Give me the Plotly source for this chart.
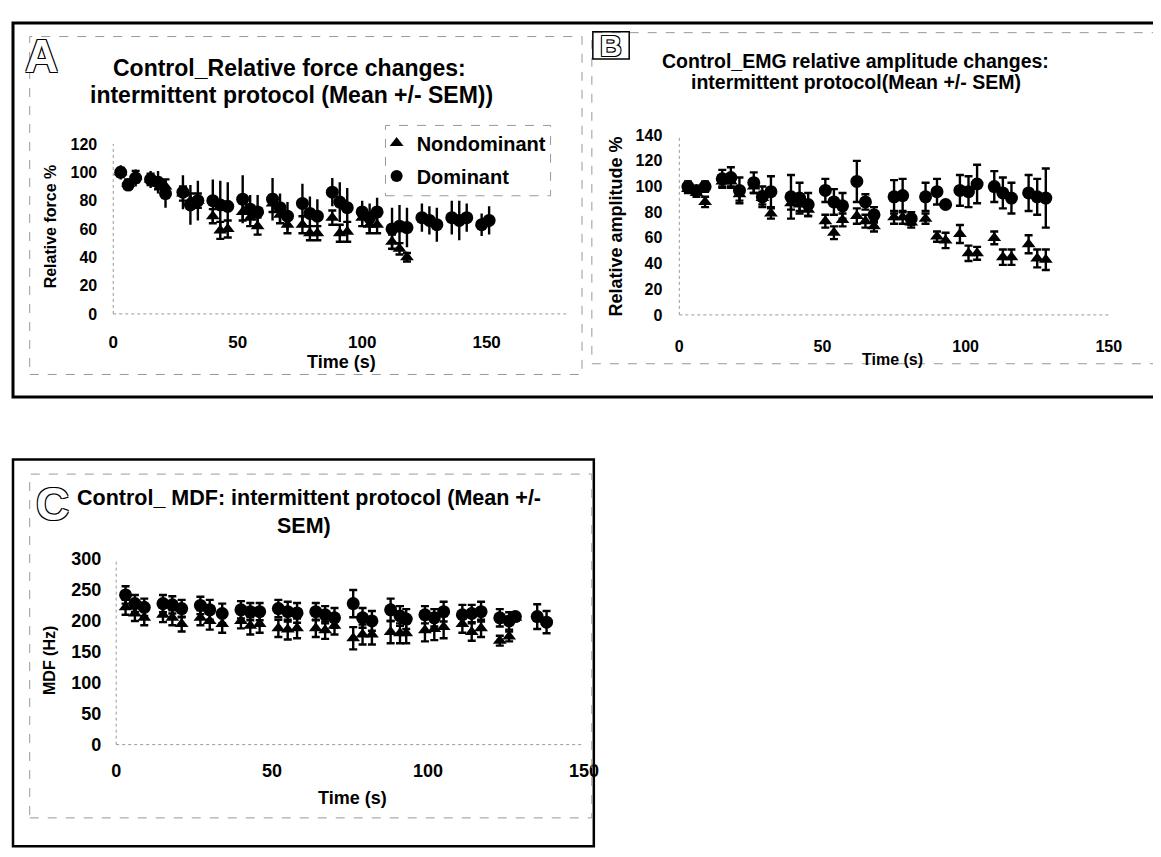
import plotly.graph_objects as go

# ---------------- data ----------------
# Panel A: relative force (%)
tA_dom = [3, 6, 9, 15, 18, 21, 28, 31, 34, 40, 43, 46, 52, 55, 58, 64, 67, 70,
          76, 79, 82, 88, 91, 94, 100, 103, 106, 112, 115, 118, 124, 127, 130,
          136, 139, 142, 148, 151]
dom_A = [100, 91, 96, 95, 93, 85, 86, 77, 80, 80, 77, 76, 81, 74, 72, 81, 75, 69,
         78, 71, 69, 86, 79, 75, 72, 68, 72, 60, 62, 61, 68, 66, 63,
         68, 66, 68, 63, 66]
dom_A_err = [5, 3, 6, 6, 8, 10, 12, 14, 14, 15, 17, 17, 17, 10, 12, 15, 10, 10,
             14, 12, 12, 10, 14, 14, 8, 10, 10, 15, 15, 14, 10, 10, 12,
             12, 14, 10, 8, 10]
tA_nd = tA_dom[:30]
nd_A = [100, 92, 97, 95, 92, 90, 85, 80, 80, 69, 59, 60, 72, 68, 62, 78, 70, 63,
        63, 57, 57, 68, 57, 58, 68, 63, 63, 51, 46, 40]
nd_A_err = [3, 3, 4, 4, 4, 5, 5, 5, 5, 5, 6, 6, 6, 6, 6, 6, 6, 6,
            6, 5, 5, 5, 6, 7, 6, 6, 6, 5, 4, 3]

# Panel B: EMG relative amplitude (%)
tB = [3, 6, 9, 15, 18, 21, 26, 29, 32, 39, 42, 45, 51, 54, 57, 62, 65, 68,
      75, 78, 81, 86, 90, 93, 98, 101, 104, 110, 113, 116, 122, 125, 128]
dom_B = [100, 97, 100, 106, 107, 97, 103, 92, 96, 92, 91, 86, 97, 88, 85, 104, 88, 78,
         92, 93, 75, 92, 96, 86, 97, 96, 102, 100, 95, 91, 95, 92, 91]
dom_B_err = [4, 3, 4, 7, 8, 10, 8, 8, 12, 17, 12, 9, 9, 10, 10, 16, 6, 6,
             13, 13, 5, 11, 10, 2, 12, 12, 15, 12, 12, 12, 14, 14, 23]
nd_B = [98, 95, 88, 104, 104, 94, 100, 91, 79, 87, 86, 82, 73, 64, 74, 77, 73, 69,
        76, 76, 72, 75, 61, 58, 63, 48, 48, 60, 45, 45, 55, 44, 43]
nd_B_err = [3, 3, 4, 4, 4, 5, 5, 5, 4, 5, 5, 5, 5, 5, 5, 6, 5, 4,
            5, 5, 4, 4, 4, 6, 7, 6, 5, 5, 6, 6, 7, 7, 8]

# Panel C: MDF (Hz)
tC = [3, 6, 9, 15, 18, 21, 27, 30, 34, 40, 43, 46, 52, 55, 58, 64, 67, 70,
      76, 79, 82, 88, 91, 93, 99, 102, 105, 111, 114, 117, 123, 126, 128, 135, 138]
dom_C = [242, 228, 222, 228, 226, 220, 225, 218, 212, 218, 215, 215, 220, 215, 213,
         215, 210, 205, 228, 205, 200, 218, 208, 203, 210, 205, 215, 210, 212, 215,
         205, 200, 207, 207, 198]
dom_C_err = [14, 14, 14, 14, 14, 14, 14, 16, 16, 14, 14, 14, 14, 16, 16, 14, 14, 16,
             22, 16, 16, 18, 16, 16, 14, 14, 16, 16, 14, 16, 14, 14, 4, 20, 18]
tC_nd = tC[:33]
nd_C = [222, 212, 205, 210, 205, 195, 205, 200, 195, 200, 192, 195, 188, 186, 188,
        188, 185, 192, 172, 178, 178, 182, 180, 180, 185, 187, 190, 195, 182, 188,
        168, 175, 205]
nd_C_err = [12, 12, 12, 12, 12, 12, 12, 14, 14, 12, 14, 14, 14, 16, 16, 14, 14, 14,
            18, 16, 16, 18, 16, 16, 18, 18, 18, 14, 14, 14, 8, 8, 4]

W, H = 1161, 857
OFF = 8  # page body margin
FONT = "Liberation Sans, Arial, sans-serif"


def X(px):
    return (px - OFF) / W


def Y(py):
    return 1 - (py - OFF) / H


fig = go.Figure()


def add_pair(t_nd, v_nd, e_nd, t_d, v_d, e_d, xa, ya, legend, dcap):
    fig.add_trace(go.Scatter(
        x=t_nd, y=v_nd, mode="markers", name="Nondominant",
        marker=dict(symbol="triangle-up", size=12, color="black"),
        error_y=dict(type="data", array=e_nd, color="black", thickness=2.4, width=4),
        xaxis=xa, yaxis=ya, showlegend=legend, legendgroup="nd"))
    fig.add_trace(go.Scatter(
        x=t_d, y=v_d, mode="markers", name="Dominant",
        marker=dict(symbol="circle", size=13, color="black"),
        error_y=dict(type="data", array=e_d, color="black", thickness=2.4, width=dcap),
        xaxis=xa, yaxis=ya, showlegend=legend, legendgroup="d"))


add_pair(tA_nd, nd_A, nd_A_err, tA_dom, dom_A, dom_A_err, "x", "y", True, 0)
add_pair(tB, nd_B, nd_B_err, tB, dom_B, dom_B_err, "x2", "y2", False, 4)
add_pair(tC_nd, nd_C, nd_C_err, tC, dom_C, dom_C_err, "x3", "y3", False, 4)


def tf(size):
    return dict(family=FONT, size=size, color="black", weight="bold")


def xax(domain, rng, anchor, size, standoff):
    return dict(domain=domain, range=rng, anchor=anchor, tickvals=[0, 50, 100, 150],
                showgrid=False, zeroline=False, showline=False, ticks="",
                ticklabelstandoff=standoff, tickfont=tf(size))


def yax(domain, rng, dtick, anchor, size, standoff):
    return dict(domain=domain, range=rng, anchor=anchor, dtick=dtick,
                showgrid=False, zeroline=False, showline=False, ticks="",
                ticklabelstandoff=standoff, tickfont=tf(size))


fig.update_layout(
    width=W, height=H, margin=dict(l=0, r=0, t=0, b=0),
    paper_bgcolor="white", plot_bgcolor="white",
    font=dict(family=FONT, color="black"),
    xaxis=xax([X(110), X(572)], [0, 182.4], "y", 17, 16),
    yaxis=yax([Y(311), Y(137)], [0, 120], 20, "x", 16, 15),
    xaxis2=xax([X(686), X(1123)], [0, 150], "y2", 16, 20),
    yaxis2=yax([Y(312), Y(128)], [0, 140], 20, "x2", 16, 16),
    xaxis3=xax([X(113), X(589)], [0, 150], "y3", 18, 13),
    yaxis3=yax([Y(752), Y(562)], [0, 300], 50, "x3", 18, 14),
    legend=dict(x=X(378), y=Y(116), xanchor="left", yanchor="top",
                borderwidth=0, bgcolor="rgba(0,0,0,0)",
                font=dict(family=FONT, size=20, color="black", weight="bold"),
                tracegroupgap=4, itemwidth=30, itemsizing="constant"),
)

# axis lines (faint dotted, as in the scan)
for xa, ya in [("x", "y"), ("x2", "y2"), ("x3", "y3")]:
    fig.add_shape(type="line", xref=f"{xa} domain", yref=f"{ya} domain",
                  x0=0, x1=1, y0=0, y1=0, line=dict(color="#999", width=1, dash="dot"))
    fig.add_shape(type="line", xref=f"{xa} domain", yref=f"{ya} domain",
                  x0=0, x1=0, y0=0, y1=1, line=dict(color="#999", width=1, dash="dot"))

# panel frames
fig.add_shape(type="rect", xref="paper", yref="paper", x0=X(8), x1=X(1185),
              y0=Y(396), y1=Y(13), line=dict(color="black", width=3))
fig.add_shape(type="rect", xref="paper", yref="paper", x0=X(8), x1=X(599),
              y0=Y(856), y1=Y(460), line=dict(color="black", width=2.5))
for (x0, y0, x1, y1) in [(25, 27, 587, 373), (597, 23, 1185, 362), (25, 475, 597, 827),
                         (387, 118, 555, 190)]:
    fig.add_shape(type="rect", xref="paper", yref="paper", x0=X(x0), x1=X(x1),
                  y0=Y(y1), y1=Y(y0), line=dict(color="#999", width=1, dash="dash"))
# box around letter B
fig.add_shape(type="rect", xref="paper", yref="paper", x0=X(598), x1=X(635),
              y0=Y(50), y1=Y(22), line=dict(color="black", width=1.5))

outline = ("1px 1px 0 #000, -1px -1px 0 #000, 1px -1px 0 #000, -1px 1px 0 #000")


def ann(text, x, y, size, angle=0, xanchor="center", shadow=None, color="black"):
    f = dict(family=FONT, size=size, color=color, weight="bold")
    if shadow:
        f["shadow"] = shadow
    fig.add_annotation(text=text, x=X(x), y=Y(y), xref="paper", yref="paper",
                       showarrow=False, textangle=angle, xanchor=xanchor,
                       yanchor="middle", font=f)


# titles (one annotation per line)
ann("Control_Relative force changes:", 289, 59, 23)
ann("intermittent protocol (Mean +/- SEM))", 291, 87, 23)
ann("Control_EMG relative amplitude changes:", 865, 52, 19.5)
ann("intermittent protocol(Mean +/- SEM)", 866, 74, 19.5)
ann("Control_ MDF: intermittent protocol (Mean +/-", 309, 499, 21.5)
ann("SEM)", 304, 528, 21.5)

# axis titles
ann("Relative force %", 46, 221, 16, angle=-90)
ann("Relative amplitude %", 622, 221, 18, angle=-90)
ann("MDF (Hz)", 45, 666, 16, angle=-90)
ann("Time (s)", 342, 360, 18)
ann("Time (s)", 903, 358, 16)
ann("Time (s)", 353, 807, 18)

# panel letters (hollow)
ann("A", 37, 47, 46, shadow=outline, color="white")
ann("B", 616, 36, 30, shadow=outline, color="white")
ann("C", 48, 506, 46, shadow=outline, color="white")

fig.write_html("out.html")
